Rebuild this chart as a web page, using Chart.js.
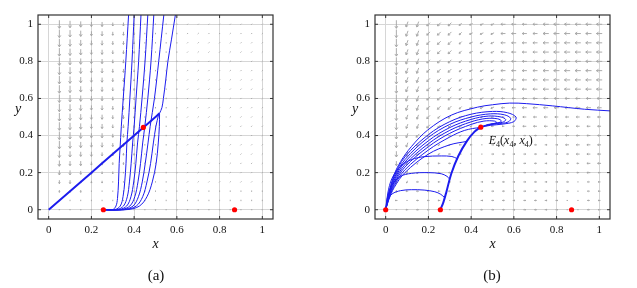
<!DOCTYPE html>
<html>
<head>
<meta charset="utf-8">
<script src="https://cdn.jsdelivr.net/npm/chart.js@4.4.0/dist/chart.umd.min.js"></script>
<style>
  html, body { margin: 0; padding: 0; background: #fff; }
  #wrap { position: relative; width: 637px; height: 288px; overflow: hidden; }
  canvas { position: absolute; top: 0; }
  #ca { left: 0; }
  #cb { left: 318px; }
  .cap { position: absolute; top: 267px; font: 15px "Liberation Serif", "Times New Roman", serif; color: #111; transform: translateX(-50%); }
</style>
</head>
<body>
<div id="wrap">
  <canvas id="ca" width="318" height="288"></canvas>
  <canvas id="cb" width="319" height="288"></canvas>
  <div class="cap" style="left:156px">(a)</div>
  <div class="cap" style="left:492px">(b)</div>
</div>
<script>
// axes
const tickVals = [0, 0.2, 0.4, 0.6, 0.8, 1];
const tickLabels = ['0', '0.2', '0.4', '0.6', '0.8', '1'];

// equilibria
const pointsA = [[0.256, 0], [0.443, 0.444], [0.87, 0]];
const pointsB = [[0, 0], [0.256, 0], [0.445, 0.445], [0.87, 0]];
const labelE4 = [0.445, 0.445];

// vector field grid (columns x, rows y from top)
const fieldX = [0.05, 0.1, 0.15, 0.2, 0.25, 0.3, 0.35, 0.4, 0.45, 0.5, 0.55, 0.6, 0.65, 0.7, 0.75, 0.8, 0.85, 0.9, 0.95, 1.0];
const fieldY = [1.0, 0.95, 0.9, 0.85, 0.8, 0.75, 0.7, 0.65, 0.6, 0.55, 0.5, 0.45, 0.4, 0.35, 0.3, 0.25, 0.2, 0.15, 0.1, 0.05, 0];
// direction codes: d down, s steep down-left, b down-left, c shallow down-left, l left, r right
const dirAngle = { d: 270, s: 250, b: 225, c: 205, l: 180, r: 0 };

const fieldDirA = [
  'ddddddddddddbbbbbbbb', 'ddddddddddddbbbbbbbb', 'ddddddddddddbbbbbbbb', 'ddddddddddddbbbbbbbb',
  'ddddddddddddbbbbbbbb', 'ddddddddddddbbbbbbbb', 'ddddddddddddbbbbbbbb', 'ddddddddddddbbbbbbbb',
  'ddddddddddddbbbbbbbb', 'ddddddddddddbbbbbbbb', 'ddddddddddddbbbbbbbb', 'ddddddddddddbbbbbbbb',
  'ddddddddddddbbbbbbbb', 'ddddddddddddbbbbbbbb', 'ddddddddddddbbbbbbbb', 'ddddddddddddbbbbbbbb',
  'ddddddddddddbbbbbbbb', 'ddddddddddddbbbbbbbb', 'dddddddddddddddddddd', 'dddddddddddddddddddd',
  'lllllrrrrrrrrrrrrlll'
];
const fieldMagA = [
  '76544332111111111111', '76544332111111111111', '76544332111111111111', '76544332111111111111',
  '76544332111111111111', '76544332111111111111', '76544332111111111111', '76544332111111111111',
  '76544332111111111111', '76544332111111111111', '76544332111111111111', '76544332111111111111',
  '76544332111111111111', '76544332111111111111', '65443322111111111111', '54433221111111111111',
  '44332211111111111111', '33222111111111111111', '22211111111111111111', '11111111111111111111',
  '11111111111111111111'
];
const fieldDirB = [
  'dssbbbbcccllllllllll', 'dssbbbbcccllllllllll', 'dssbbbbcccllllllllll', 'dssbbbbcccllllllllll',
  'dssbbbbcccllllllllll', 'dssbbbbcccllllllllll', 'dssbbbbcccllllllllll', 'dssbbbbcccllllllllll',
  'dssbbbbcccllllllllll', 'dssbbbbcccllllllllll', 'dssbbbccclllllllllll', 'dssbbbccclllllllllll',
  'dsbbbcclllrrrrrlllll', 'dsbbbclllrrrrrrrllll', 'dsbbcllllrrrrrrrrlll', 'dsbclllllrrrrrrrrlll',
  'dsbllllllrrrrrrrrlll', 'dsllllllrrrrrrrrrlll', 'dlllllllrrrrrrrrrlll', 'llllllllrrrrrrrrrlll',
  'lllllllllrrrrrrrrlll'
];
const fieldMagB = [
  '75544433334444555555', '75544433334444555555', '75544433334444555555', '75544433334444555555',
  '75544433334444555555', '75544433334444555555', '75544433334444555555', '75544433334444555555',
  '75544433333344444444', '75544433333344444444', '64443332222233333333', '64443332222233333333',
  '64433222212222233333', '54332222122222223333', '54322221122222222333', '43222211122222222233',
  '33222211122222222232', '32222211222222222122', '22222211222222222122', '21222111222222221122',
  '12222111222222221122'
];

// trajectories, panel (a)
const diagA = [[0, 0], [0.1, 0.1], [0.2, 0.2], [0.3, 0.3], [0.4, 0.4], [0.5, 0.5], [0.519, 0.52]];
const exitA = [[0.519, 0.52], [0.53, 0.55], [0.537, 0.6], [0.548, 0.7], [0.558, 0.8], [0.575, 0.92], [0.593, 1.05]];
const curvesA = [
  [[0.256, 0], [0.30, 0.001], [0.315, 0.02], [0.322, 0.06], [0.327, 0.15], [0.33, 0.25], [0.334, 0.33], [0.34, 0.45], [0.349, 0.6], [0.361, 0.8], [0.374, 1.05]],
  [[0.256, 0], [0.31, 0.001], [0.335, 0.02], [0.348, 0.07], [0.356, 0.15], [0.362, 0.25], [0.366, 0.36], [0.372, 0.45], [0.38, 0.6], [0.39, 0.8], [0.40, 1.05]],
  [[0.256, 0], [0.32, 0.001], [0.35, 0.02], [0.368, 0.07], [0.378, 0.15], [0.386, 0.25], [0.393, 0.36], [0.40, 0.45], [0.409, 0.6], [0.421, 0.8], [0.432, 1.05]],
  [[0.256, 0], [0.33, 0.001], [0.365, 0.02], [0.385, 0.07], [0.398, 0.15], [0.408, 0.25], [0.416, 0.36], [0.425, 0.45], [0.437, 0.6], [0.451, 0.8], [0.464, 1.05]],
  [[0.256, 0], [0.34, 0.001], [0.38, 0.02], [0.403, 0.07], [0.418, 0.15], [0.43, 0.25], [0.44, 0.36], [0.45, 0.45], [0.464, 0.6], [0.479, 0.8], [0.492, 1.05]],
  [[0.256, 0], [0.35, 0.001], [0.395, 0.02], [0.42, 0.07], [0.438, 0.15], [0.452, 0.25], [0.465, 0.36], [0.475, 0.45], [0.495, 0.6], [0.515, 0.8], [0.539, 1.05]],
  [[0.256, 0], [0.36, 0.001], [0.41, 0.02], [0.44, 0.07], [0.46, 0.15], [0.477, 0.25], [0.49, 0.36], [0.502, 0.45], [0.514, 0.51]],
  [[0.256, 0], [0.37, 0.001], [0.425, 0.02], [0.46, 0.07], [0.485, 0.15], [0.503, 0.25], [0.513, 0.36], [0.518, 0.45], [0.519, 0.52]]
];

// trajectories, panel (b)
const stableB = [[0.256, 0], [0.27, 0.04], [0.285, 0.1], [0.307, 0.194], [0.34, 0.29], [0.38, 0.37], [0.415, 0.42], [0.445, 0.445]];
const curvesB = [
  [[0, 0], [0.01, 0.05], [0.03, 0.085], [0.07, 0.103], [0.12, 0.108], [0.18, 0.106], [0.23, 0.097], [0.258, 0.083], [0.276, 0.065]],
  [[0, 0], [0.01, 0.075], [0.03, 0.135], [0.07, 0.18], [0.12, 0.196], [0.2, 0.2], [0.26, 0.194], [0.287, 0.18], [0.3, 0.165]],
  [[0, 0], [0.01, 0.09], [0.03, 0.17], [0.07, 0.235], [0.12, 0.27], [0.18, 0.286], [0.26, 0.29], [0.31, 0.287], [0.335, 0.275]],
  [[1.05, 0.533], [0.93, 0.542], [0.78, 0.56], [0.66, 0.572], [0.58, 0.575], [0.5, 0.566], [0.43, 0.553], [0.307, 0.51], [0.197, 0.43], [0.12, 0.34], [0.07, 0.26], [0.04, 0.19], [0.015, 0.09], [0, 0]],
  [[0, 0], [0.015, 0.085], [0.04, 0.18], [0.09, 0.285], [0.2, 0.405], [0.3, 0.475], [0.4, 0.515], [0.5, 0.53], [0.57, 0.523], [0.61, 0.5], [0.6, 0.475], [0.55, 0.462], [0.49, 0.455], [0.445, 0.445]],
  [[0, 0], [0.015, 0.08], [0.04, 0.17], [0.09, 0.27], [0.2, 0.39], [0.3, 0.46], [0.4, 0.5], [0.49, 0.517], [0.555, 0.512], [0.585, 0.493], [0.573, 0.473], [0.52, 0.463], [0.47, 0.455], [0.445, 0.445]],
  [[0, 0], [0.015, 0.075], [0.04, 0.16], [0.09, 0.257], [0.2, 0.372], [0.3, 0.443], [0.4, 0.487], [0.48, 0.505], [0.54, 0.5], [0.562, 0.486], [0.548, 0.472], [0.5, 0.464], [0.445, 0.445]],
  [[0, 0], [0.015, 0.07], [0.04, 0.15], [0.09, 0.243], [0.2, 0.356], [0.3, 0.428], [0.4, 0.474], [0.47, 0.492], [0.525, 0.49], [0.542, 0.478], [0.525, 0.468], [0.48, 0.46], [0.445, 0.445]],
  [[0, 0], [0.015, 0.065], [0.04, 0.14], [0.09, 0.23], [0.2, 0.34], [0.3, 0.412], [0.4, 0.46], [0.46, 0.478], [0.51, 0.478], [0.52, 0.47], [0.5, 0.462], [0.445, 0.445]],
  [[0, 0], [0.015, 0.06], [0.04, 0.13], [0.09, 0.215], [0.2, 0.322], [0.3, 0.392], [0.37, 0.428], [0.445, 0.445]],
  [[0, 0], [0.015, 0.055], [0.04, 0.12], [0.09, 0.2], [0.2, 0.3], [0.3, 0.35], [0.378, 0.368]]
];

const BLUE = 'rgb(28,28,238)';
const SERIF = '"Liberation Serif", "Times New Roman", serif';

function toXY(pts) {
  return pts.map(p => ({ x: p[0], y: p[1] }));
}

function lineSet(pts, width) {
  return {
    data: toXY(pts), showLine: true, borderColor: BLUE, borderWidth: width,
    pointRadius: 0, tension: 0.35, fill: false
  };
}

function drawArrow(ctx, px, py, deg, m) {
  const a = deg * Math.PI / 180;
  const len = m <= 1 ? 1.4 : m * 1.15;
  const dx = Math.cos(a) * len, dy = -Math.sin(a) * len;
  const tx = px + dx / 2, ty = py + dy / 2;
  ctx.beginPath();
  ctx.moveTo(px - dx / 2, py - dy / 2);
  ctx.lineTo(tx, ty);
  if (m > 1) {
    const h = Math.min(2.6, len * 0.45);
    for (const s of [-1, 1]) {
      const b = a + Math.PI + s * 0.6;
      ctx.moveTo(tx, ty);
      ctx.lineTo(tx + Math.cos(b) * h, ty - Math.sin(b) * h);
    }
  }
  ctx.stroke();
}

const framePlugin = {
  id: 'frame',
  beforeDatasetsDraw(chart, args, opts) {
    const { ctx, chartArea: ar, scales: { x, y } } = chart;
    ctx.save();
    ctx.beginPath();
    ctx.rect(ar.left, ar.top, ar.right - ar.left, ar.bottom - ar.top);
    ctx.clip();
    ctx.strokeStyle = '#a3a3a3';
    ctx.lineWidth = 0.9;
    opts.dirs.forEach((row, i) => {
      for (let j = 0; j < row.length; j++) {
        drawArrow(ctx, x.getPixelForValue(fieldX[j]), y.getPixelForValue(fieldY[i]), dirAngle[row[j]], +opts.mags[i][j]);
      }
    });
    ctx.restore();
  },
  afterDraw(chart, args, opts) {
    const { ctx, chartArea: ar, scales: { x, y } } = chart;
    ctx.save();
    ctx.strokeStyle = '#333';
    ctx.lineWidth = 1.2;
    ctx.strokeRect(ar.left, ar.top, ar.right - ar.left, ar.bottom - ar.top);
    ctx.lineWidth = 1;
    ctx.beginPath();
    tickVals.forEach(v => {
      const px = x.getPixelForValue(v), py = y.getPixelForValue(v);
      ctx.moveTo(px, ar.bottom); ctx.lineTo(px, ar.bottom - 3);
      ctx.moveTo(px, ar.top); ctx.lineTo(px, ar.top + 3);
      ctx.moveTo(ar.left, py); ctx.lineTo(ar.left + 3, py);
      ctx.moveTo(ar.right, py); ctx.lineTo(ar.right - 3, py);
    });
    ctx.stroke();
    // axis names
    ctx.fillStyle = '#111';
    ctx.font = 'italic 14px ' + SERIF;
    ctx.textAlign = 'center';
    ctx.textBaseline = 'middle';
    ctx.fillText('x', (ar.left + ar.right) / 2, 244);
    ctx.fillText('y', ar.left - 20, 109);
    if (opts.label) {
      ctx.textAlign = 'left';
      ctx.textBaseline = 'alphabetic';
      let tx = x.getPixelForValue(labelE4[0]) + 8;
      const ty = y.getPixelForValue(labelE4[1]) + 17;
      const parts = [['E', 1, 0], ['4', 0, 1], ['(', 0, 0], ['x', 1, 0], ['4', 0, 1], [', ', 0, 0], ['x', 1, 0], ['4', 0, 1], [')', 0, 0]];
      parts.forEach(([t, it, sub]) => {
        ctx.font = (it ? 'italic ' : '') + (sub ? '8px ' : '12px ') + SERIF;
        ctx.fillText(t, tx, sub ? ty + 3 : ty);
        tx += ctx.measureText(t).width;
      });
    }
    ctx.restore();
  }
};

function axis(isX) {
  return {
    type: 'linear', min: -0.05, max: 1.05,
    afterBuildTicks: s => { s.ticks = tickVals.map(v => ({ value: v })); },
    afterFit: s => { if (isX) s.height = 40; else s.width = 30; },
    grid: { color: '#d6d6d6', lineWidth: 1, drawTicks: false },
    border: { display: false },
    ticks: {
      padding: 5, color: '#111', font: { family: SERIF, size: 11 },
      callback: (v, i) => tickLabels[i]
    }
  };
}

function makeChart(id, datasets, dots, field, padL, padR, label) {
  datasets.push({
    data: toXY(dots), showLine: false, pointRadius: 2.6, pointBackgroundColor: '#ff0000',
    pointBorderWidth: 0, borderColor: '#ff0000', order: -1
  });
  new Chart(document.getElementById(id), {
    type: 'scatter',
    data: { datasets },
    options: {
      responsive: false, animation: false, devicePixelRatio: 1,
      layout: { padding: { left: padL, right: padR, top: 15, bottom: 29 } },
      scales: { x: axis(true), y: axis(false) },
      plugins: {
        legend: { display: false }, tooltip: { enabled: false },
        frame: { dirs: field[0], mags: field[1], label }
      }
    },
    plugins: [framePlugin]
  });
}

const setsA = curvesA.map(c => lineSet(c, 1));
setsA.push(lineSet(diagA, 2), lineSet(exitA, 1));
makeChart('ca', setsA, pointsA, [fieldDirA, fieldMagA], 8, 45, false);

const setsB = curvesB.map(c => lineSet(c, 1));
setsB.push(lineSet(stableB, 2));
makeChart('cb', setsB, pointsB, [fieldDirB, fieldMagB], 27, 27, true);
</script>
</body>
</html>
